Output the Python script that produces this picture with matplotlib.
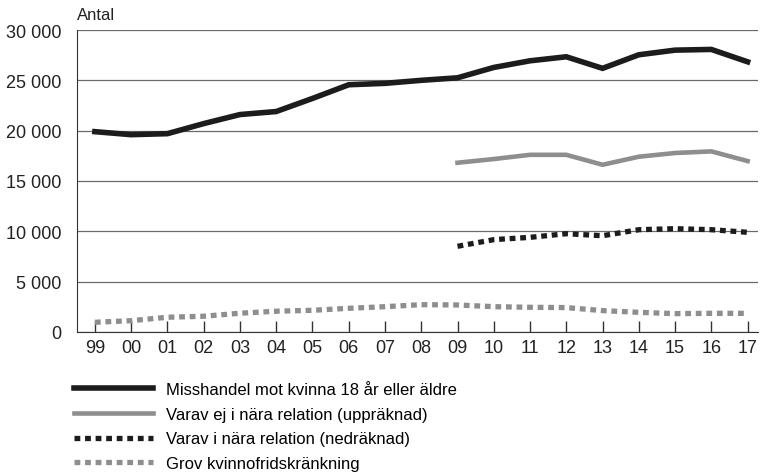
import numpy as np
import matplotlib.pyplot as plt

plt.rcParams['font.family'] = ['Liberation Sans', 'DejaVu Sans']

years = ["99", "00", "01", "02", "03", "04", "05", "06", "07", "08",
         "09", "10", "11", "12", "13", "14", "15", "16", "17"]

misshandel = [19900, 19600, 19700, 20700, 21600, 21900, 23200, 24560, 24700, 25000,
              25250, 26280, 26940, 27340, 26190, 27540, 28000, 28070, 26840]
ej_nara = [16810, 17180, 17600, 17600, 16610, 17410, 17780, 17940, 16980]
i_nara = [8510, 9170, 9400, 9760, 9560, 10160, 10260, 10160, 9900]
grov = [960, 1120, 1460, 1560, 1860, 2060, 2150, 2350, 2510, 2710,
        2680, 2510, 2450, 2420, 2120, 1950, 1820, 1850, 1850]

x = np.arange(len(years))
x_sub = x[10:]

black = "#1c1c1c"
gray = "#8e8e8e"

fig = plt.figure(figsize=(7.6, 4.77), dpi=100)
ax = fig.add_axes([0.101, 0.302, 0.897, 0.633])

ax.plot(x, misshandel, color=black, lw=4.0, solid_joinstyle="miter",
        label="Misshandel mot kvinna 18 år eller äldre")
ax.plot(x_sub, ej_nara, color=gray, lw=3.3,
        label="Varav ej i nära relation (uppräknad)")
ax.plot(x_sub, i_nara, color=black, lw=3.8, dashes=(1.1, 0.9),
        dash_capstyle="butt", label="Varav i nära relation (nedräknad)")
ax.plot(x, grov, color=gray, lw=3.8, dashes=(1.1, 0.9),
        dash_capstyle="butt", label="Grov kvinnofridskränkning")

ax.set_ylim(0, 30000)
ax.set_xlim(-0.5, 18.3)
ax.set_yticks(np.arange(0, 30001, 5000))
ax.set_yticklabels(["0", "5 000", "10 000", "15 000", "20 000", "25 000", "30 000"])
ax.set_xticks(x)
ax.set_xticklabels(years)
ax.yaxis.grid(True, color="#6a6a6a", lw=0.9)
ax.set_axisbelow(True)

for s in ["top", "right"]:
    ax.spines[s].set_visible(False)
ax.spines["left"].set_color("#333333")
ax.spines["bottom"].set_color("#333333")
ax.tick_params(axis="y", length=0, pad=11, labelsize=13, labelcolor="#222222")
ax.tick_params(axis="x", direction="in", length=8, width=1, color="#333333",
               pad=5, labelsize=13, labelcolor="#222222")

fig.text(0.101, 0.952, "Antal", fontsize=12, color="#222222", va="bottom")

fig.legend(loc="upper left", bbox_to_anchor=(0.098, 0.197), frameon=False,
           fontsize=12, handlelength=4.7, handletextpad=0.8,
           labelspacing=0.58, borderpad=0, borderaxespad=0)

fig.savefig("out.png", dpi=100)
